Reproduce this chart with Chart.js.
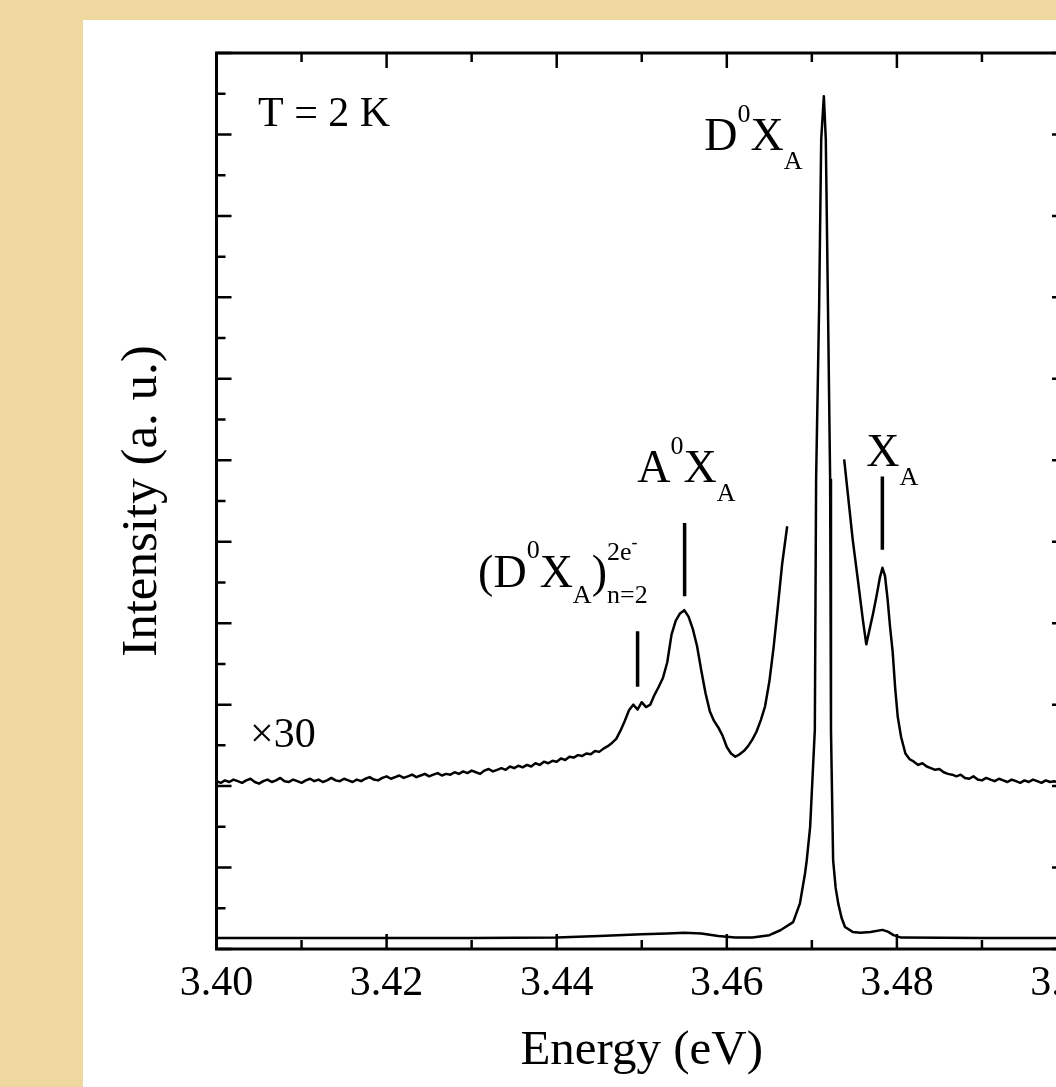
<!DOCTYPE html>
<html>
<head>
<meta charset="utf-8">
<script src="https://cdn.jsdelivr.net/npm/chart.js@4.4.0/dist/chart.umd.min.js"></script>
<style>
  html, body { margin: 0; padding: 0; width: 1056px; height: 1087px; overflow: hidden; background: #efd8a0; }
  #panel { position: absolute; left: 83px; top: 20px; width: 1100px; height: 1067px; background: #fff; }
</style>
</head>
<body>
<div id="panel"><canvas id="c" width="1100" height="1067"></canvas></div>
<script>
// x axis (eV)
const xMin = 3.40, xMax = 3.50, xStep = 0.01;
const xTickLabels = ["3.40", "3.42", "3.44", "3.46", "3.48", "3.50"];
// y axis (a. u.), unlabelled
const yMin = 0, yMax = 11, yStep = 0.5;

// PL spectrum as measured
const lowerE = [3.4000, 3.4100, 3.4200, 3.4300, 3.4400, 3.4450, 3.4500, 3.4530, 3.4550, 3.4570,
  3.4590, 3.4610, 3.4630, 3.4650, 3.4663, 3.4678, 3.4686, 3.4692, 3.4694, 3.4698,
  3.47035, 3.4705, 3.47085, 3.4711, 3.47141, 3.47164, 3.4719, 3.47215, 3.47225, 3.4725,
  3.4728, 3.4731, 3.4735, 3.4739, 3.4748, 3.4757, 3.4769, 3.4783, 3.4790, 3.4796,
  3.4805, 3.4900, 3.5000];
const lowerI = [0.135, 0.135, 0.135, 0.135, 0.14, 0.16, 0.18, 0.19, 0.20, 0.19,
  0.16, 0.14, 0.14, 0.17, 0.23, 0.33, 0.56, 0.93, 1.09, 1.50,
  2.69, 5.76, 7.85, 9.94, 10.47, 9.94, 7.85, 5.76, 2.69, 1.09,
  0.75, 0.56, 0.38, 0.27, 0.21, 0.20, 0.21, 0.235, 0.21, 0.17,
  0.14, 0.135, 0.135];

// same spectrum x30, shifted up (gap where it leaves the frame)
const magE = [3.4000, 3.4005, 3.4010, 3.4015, 3.4020, 3.4025, 3.4030, 3.4035, 3.4040, 3.4045,
  3.4050, 3.4055, 3.4060, 3.4065, 3.4070, 3.4075, 3.4080, 3.4085, 3.4090, 3.4095,
  3.4100, 3.4105, 3.4110, 3.4115, 3.4120, 3.4125, 3.4130, 3.4135, 3.4140, 3.4145,
  3.4150, 3.4155, 3.4160, 3.4165, 3.4170, 3.4175, 3.4180, 3.4185, 3.4190, 3.4195,
  3.4200, 3.4205, 3.4210, 3.4215, 3.4220, 3.4225, 3.4230, 3.4235, 3.4240, 3.4245,
  3.4250, 3.4255, 3.4260, 3.4265, 3.4270, 3.4275, 3.4280, 3.4285, 3.4290, 3.4295,
  3.4300, 3.4305, 3.4310, 3.4315, 3.4320, 3.4325, 3.4330, 3.4335, 3.4340, 3.4345,
  3.4350, 3.4355, 3.4360, 3.4365, 3.4370, 3.4375, 3.4380, 3.4385, 3.4390, 3.4395,
  3.4400, 3.4405, 3.4410, 3.4415, 3.4420, 3.4425, 3.4430, 3.4435, 3.4440, 3.4445,
  3.4450, 3.4455, 3.4460, 3.4465, 3.4470, 3.4475, 3.4480, 3.4485, 3.4490, 3.4495,
  3.4500, 3.4505, 3.4510, 3.4515, 3.4520, 3.4525, 3.4530, 3.4535, 3.4540, 3.4545,
  3.4550, 3.4555, 3.4560, 3.4565, 3.4570, 3.4575, 3.4580, 3.4585, 3.4590, 3.4595,
  3.4600, 3.4605, 3.4610, 3.4615, 3.4620, 3.4625, 3.4630, 3.4635, 3.4640, 3.4645,
  3.4650, 3.4655, 3.4660, 3.4665, 3.4671,
  3.4700,
  3.4738, 3.4743, 3.4748, 3.4754, 3.4760, 3.4764, 3.4768, 3.4772, 3.4776, 3.4780,
  3.4783, 3.4786, 3.4789, 3.4792, 3.4795, 3.4798, 3.4801, 3.4805, 3.4810, 3.4815,
  3.4820, 3.4825, 3.4830, 3.4835, 3.4840, 3.4845, 3.4850, 3.4855, 3.4860, 3.4865,
  3.4870, 3.4875, 3.4880, 3.4885, 3.4890, 3.4895, 3.4900, 3.4905, 3.4910, 3.4915,
  3.4920, 3.4925, 3.4930, 3.4935, 3.4940, 3.4945, 3.4950, 3.4955, 3.4960, 3.4965,
  3.4970, 3.4975, 3.4980, 3.4985, 3.4990, 3.4995, 3.5000];
const magI = [2.06, 2.04, 2.07, 2.05, 2.08, 2.06, 2.04, 2.07, 2.09, 2.05,
  2.03, 2.06, 2.08, 2.05, 2.07, 2.10, 2.06, 2.05, 2.08, 2.06,
  2.04, 2.07, 2.09, 2.06, 2.08, 2.05, 2.07, 2.10, 2.07, 2.06,
  2.09, 2.07, 2.05, 2.08, 2.06, 2.09, 2.11, 2.08, 2.07, 2.10,
  2.12, 2.09, 2.11, 2.13, 2.10, 2.12, 2.14, 2.11, 2.13, 2.15,
  2.12, 2.14, 2.16, 2.13, 2.15, 2.14, 2.17, 2.15, 2.18, 2.16,
  2.19, 2.17, 2.15, 2.19, 2.21, 2.18, 2.20, 2.22, 2.20, 2.24,
  2.22, 2.25, 2.23, 2.26, 2.24, 2.28, 2.26, 2.30, 2.28, 2.31,
  2.30, 2.34, 2.32, 2.36, 2.35, 2.38, 2.37, 2.40, 2.39, 2.43,
  2.42, 2.46, 2.49, 2.53, 2.58, 2.68, 2.80, 2.93, 3.00, 2.94,
  3.03, 2.97, 3.00, 3.12, 3.22, 3.33, 3.52, 3.86, 4.03, 4.12,
  4.16, 4.08, 3.93, 3.72, 3.42, 3.14, 2.92, 2.80, 2.72, 2.62,
  2.48, 2.40, 2.36, 2.39, 2.43, 2.49, 2.57, 2.67, 2.81, 2.98,
  3.28, 3.70, 4.20, 4.72, 5.19,
  null,
  6.01, 5.52, 5.03, 4.54, 4.04, 3.74, 3.93, 4.12, 4.33, 4.56,
  4.68, 4.58, 4.30, 3.95, 3.65, 3.20, 2.85, 2.60, 2.40, 2.33,
  2.30, 2.26, 2.28, 2.24, 2.22, 2.20, 2.21, 2.17, 2.15, 2.14,
  2.12, 2.14, 2.10, 2.09, 2.12, 2.08, 2.07, 2.10, 2.08, 2.06,
  2.09, 2.07, 2.05, 2.08, 2.06, 2.04, 2.07, 2.05, 2.08, 2.06,
  2.04, 2.07, 2.05, 2.06, 2.04, 2.07, 2.05];

// short vertical markers under the peak labels
const markerE = [3.44951, 3.45504, 3.47829];
const markerLow = [3.22, 4.33, 4.90];
const markerHigh = [3.90, 5.23, 5.80];

// text annotations, anchored in data coords (energy, intensity at baseline)
const notes = [
  { e: 3.40488, i: 10.107, runs: [{ t: "T = 2 K", s: 42 }] },
  { e: 3.45735, i: 9.812, runs: [{ t: "D", s: 46 }, { t: "0", s: 26, dy: -28 }, { t: "X", s: 46 }, { t: "A", s: 26, dy: 19 }] },
  { e: 3.44947, i: 5.728, runs: [{ t: "A", s: 46 }, { t: "0", s: 26, dy: -28 }, { t: "X", s: 46 }, { t: "A", s: 26, dy: 19 }] },
  { e: 3.47641, i: 5.924, runs: [{ t: "X", s: 46 }, { t: "A", s: 26, dy: 19 }] },
  { e: 3.43076, i: 4.449, runs: [{ t: "(", s: 46 }, { t: "D", s: 46 }, { t: "0", s: 26, dy: -29 }, { t: "X", s: 46 },
      { t: "A", s: 26, dy: 16 }, { t: ")", s: 46 }, { t: "2e", s: 26, dy: -27, mark: true }, { t: "-", s: 18, dy: -39 },
      { t: "n=2", s: 26, dy: 16, reset: true }] },
  { e: 3.40394, i: 2.486, runs: [{ t: "\u00d730", s: 42 }] }
];

const FONT = "'Liberation Serif', 'Times New Roman', serif";

function pts(xs, ys) { return xs.map((x, k) => ({ x: x, y: ys[k] })); }

const datasets = [
  { data: pts(lowerE, lowerI), borderColor: "#000", borderWidth: 2.5 },
  { data: pts(magE, magI), borderColor: "#000", borderWidth: 2.5 }
];
markerE.forEach((e, k) => {
  datasets.push({ data: [{ x: e, y: markerLow[k] }, { x: e, y: markerHigh[k] }], borderColor: "#000", borderWidth: 3.5, borderCapStyle: "butt" });
});

const isMajorX = v => Math.round(v * 100) % 2 === 0;

// frame + inward ticks on all four sides
const framePlugin = {
  id: "frame",
  afterDraw(chart) {
    const { ctx, chartArea: a, scales: { x, y } } = chart;
    ctx.save();
    ctx.strokeStyle = "#000";
    ctx.lineWidth = 2.5;
    ctx.beginPath();
    x.ticks.forEach(t => {
      const px = x.getPixelForValue(t.value);
      const L = isMajorX(t.value) ? 15 : 9;
      ctx.moveTo(px, a.bottom); ctx.lineTo(px, a.bottom - L);
      ctx.moveTo(px, a.top); ctx.lineTo(px, a.top + L);
    });
    y.ticks.forEach(t => {
      const py = y.getPixelForValue(t.value);
      const L = Math.abs(t.value - Math.round(t.value)) < 1e-6 ? 15 : 9;
      ctx.moveTo(a.left, py); ctx.lineTo(a.left + L, py);
      ctx.moveTo(a.right, py); ctx.lineTo(a.right - L, py);
    });
    ctx.stroke();
    ctx.lineWidth = 3;
    ctx.strokeRect(a.left, a.top, a.right - a.left, a.bottom - a.top);
    ctx.restore();
  }
};

// annotations and axis titles
const textPlugin = {
  id: "texts",
  afterDraw(chart) {
    const { ctx, chartArea: a, scales: { x, y } } = chart;
    ctx.save();
    ctx.fillStyle = "#000";
    ctx.textBaseline = "alphabetic";
    ctx.textAlign = "left";
    notes.forEach(n => {
      let cx = x.getPixelForValue(n.e), saved = cx;
      const by = y.getPixelForValue(n.i);
      n.runs.forEach(r => {
        if (r.reset) cx = saved;
        if (r.mark) saved = cx;
        ctx.font = r.s + "px " + FONT;
        ctx.fillText(r.t, cx, by + (r.dy || 0));
        cx += ctx.measureText(r.t).width;
      });
    });
    // y title
    ctx.font = "51px " + FONT;
    ctx.textAlign = "center";
    ctx.save();
    ctx.translate(73, (a.top + a.bottom) / 2);
    ctx.rotate(-Math.PI / 2);
    ctx.fillText("Intensity (a. u.)", 0, 0);
    ctx.restore();
    // x title
    ctx.font = "49px " + FONT;
    ctx.fillText("Energy (eV)", (a.left + a.right) / 2, 1044);
    ctx.restore();
  }
};

new Chart(document.getElementById("c"), {
  type: "line",
  data: { datasets: datasets },
  options: {
    responsive: false,
    animation: false,
    layout: { padding: { top: 33, right: 116, left: 0, bottom: 0 } },
    plugins: { legend: { display: false }, tooltip: { enabled: false } },
    elements: { point: { radius: 0 }, line: { tension: 0, borderJoinStyle: "round" } },
    scales: {
      x: {
        type: "linear", min: xMin, max: xMax,
        grid: { display: false, drawTicks: false }, border: { display: false },
        ticks: {
          stepSize: xStep, autoSkip: false, maxRotation: 0, padding: 10, color: "#000",
          font: { family: FONT, size: 42 },
          callback: v => isMajorX(v) ? xTickLabels[Math.round((v - xMin) * 50)] : ""
        },
        afterFit(s) { s.height = 138; }
      },
      y: {
        min: yMin, max: yMax,
        ticks: { stepSize: yStep, display: false },
        grid: { display: false, drawTicks: false }, border: { display: false },
        afterFit(s) { s.width = 133.5; }
      }
    }
  },
  plugins: [framePlugin, textPlugin]
});
</script>
</body>
</html>
